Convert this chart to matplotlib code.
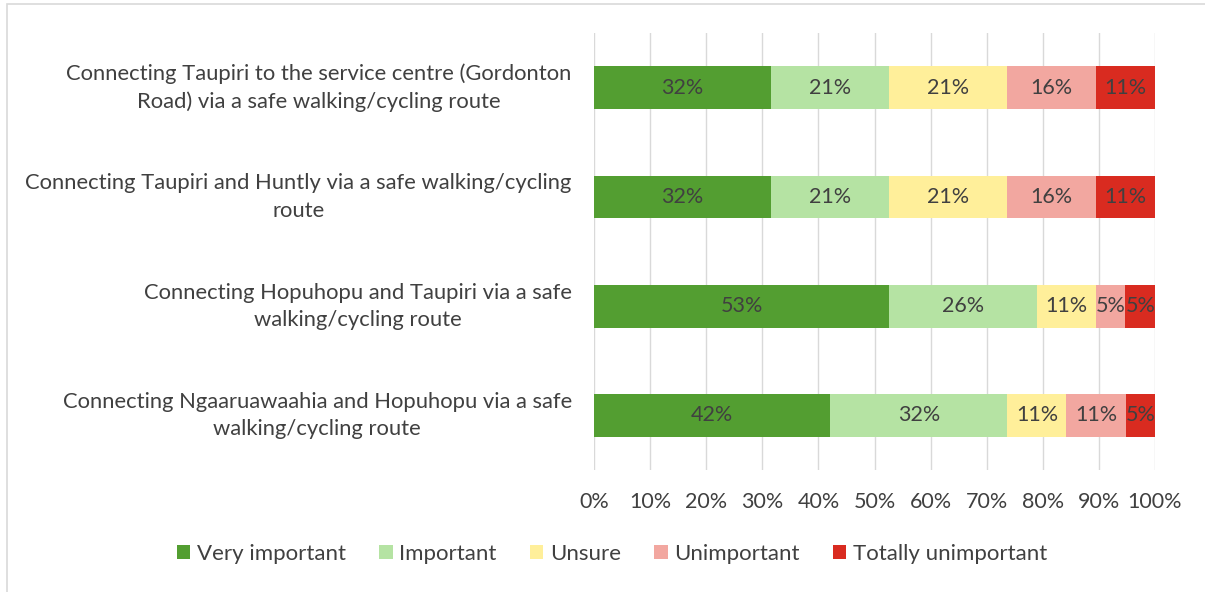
import numpy as np
import matplotlib.pyplot as plt
import matplotlib.ticker as plticker
from matplotlib.patches import Rectangle

plt.rcParams['font.family'] = ['Lato', 'DejaVu Sans']

# Data (percent of respondents)
questions = [
    "Connecting Taupiri to the service centre (Gordonton\nRoad) via a safe walking/cycling route",
    "Connecting Taupiri and Huntly via a safe walking/cycling\nroute",
    "Connecting Hopuhopu and Taupiri via a safe\nwalking/cycling route",
    "Connecting Ngaaruawaahia and Hopuhopu via a safe\nwalking/cycling route",
]
categories = ["Very important", "Important", "Unsure", "Unimportant", "Totally unimportant"]
very_important = [31.58, 31.58, 52.63, 42.11]
important = [21.05, 21.05, 26.32, 31.58]
unsure = [21.05, 21.05, 10.53, 10.53]
unimportant = [15.79, 15.79, 5.26, 10.53]
totally_unimportant = [10.53, 10.53, 5.26, 5.26]
series = [very_important, important, unsure, unimportant, totally_unimportant]
colors = ["#539E31", "#B5E3A3", "#FFEF9A", "#F2A7A0", "#D92B20"]

txt = "#404040"

fig = plt.figure(figsize=(12.05, 5.92), dpi=100)
ax = fig.add_axes([0.493, 0.206, 0.4655, 0.738])

y = np.arange(len(questions))
left = np.zeros(len(questions))
for vals, col, name in zip(series, colors, categories):
    vals = np.array(vals)
    bars = ax.barh(y, vals, left=left, height=0.39, color=col, label=name, zorder=3)
    labels = ["%d%%" % round(v) for v in vals]
    ax.bar_label(bars, labels=labels, label_type='center', color=txt, fontsize=15.5)
    left += vals

ax.set_xlim(0, 100)
ax.set_ylim(len(questions) - 0.5, -0.5)
ax.set_yticks(y)
ax.set_yticklabels(questions, fontsize=15.8, color=txt, ha='right', multialignment='center',
                   linespacing=1.45, va='center')
ax.xaxis.set_major_locator(plticker.MultipleLocator(10))
ax.xaxis.set_major_formatter(plticker.FuncFormatter(lambda v, p: "%d%%" % v))
ax.tick_params(axis='x', labelsize=15.5, colors=txt, length=0, pad=16)
ax.tick_params(axis='y', length=0, pad=16)
ax.grid(axis='x', color='#D9D9D9', linewidth=1, zorder=0)
for s in ax.spines.values():
    s.set_visible(False)

ax.legend(loc='center', bbox_to_anchor=(0.508, 0.064), bbox_transform=fig.transFigure,
          ncol=5, frameon=False, fontsize=16, labelcolor=txt,
          handlelength=0.6, handleheight=0.6, handletextpad=0.3, columnspacing=1.5)

# outer chart border
fig.patches.append(Rectangle((7 / 1205, -0.01), 1.1, 1 - 4 / 592 + 0.01, transform=fig.transFigure,
                             fill=False, edgecolor='#D9D9D9', linewidth=1.2))

fig.savefig("out.png", dpi=100)
